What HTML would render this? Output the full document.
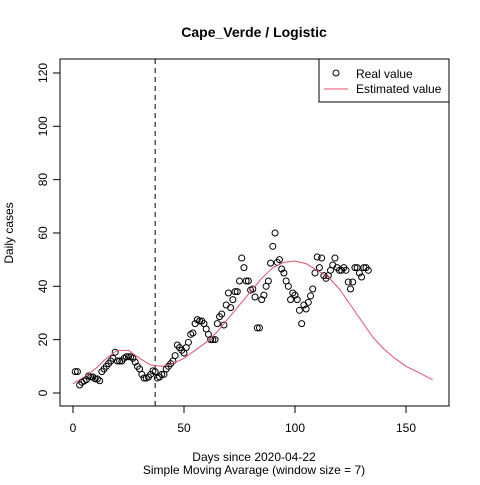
<!DOCTYPE html>
<html><head><meta charset="utf-8"><style>body{margin:0;background:#fff}svg{font-family:"Liberation Sans",sans-serif}</style></head>
<body>
<svg id="c" width="480" height="480">
<rect width="480" height="480" fill="#fff"/>
<text x="254" y="37" text-anchor="middle" font-weight="bold" font-size="14">Cape_Verde / Logistic</text>
<rect x="60" y="59" width="389" height="347" fill="none" stroke="#000"/>
<text x="254" y="461" text-anchor="middle" font-size="12">Days since 2020-04-22</text>
<text x="254" y="474" text-anchor="middle" font-size="12">Simple Moving Avarage (window size = 7)</text>
<text transform="translate(13,233) rotate(-90)" text-anchor="middle" font-size="12">Daily cases</text>
<g id="ax"></g><g id="marks"></g>
<g>
<rect x="319" y="59" width="130" height="43" fill="#fff" stroke="#000"/>
<circle cx="336" cy="73" r="3" fill="none" stroke="#000"/>
<text x="356" y="78" font-size="12">Real value</text>
<line x1="324" y1="89" x2="348" y2="89" stroke="#DF536B"/>
<text x="356" y="93" font-size="12">Estimated value</text>
</g>
</svg>
<script>
const realDays=[];for(let i=1;i<=133;i++)realDays.push(i);
const realValues=[8,8,3,4,4.5,5,6.4,6,6,5.3,5.3,4.6,8,9,10,11,12,13,15.3,12,12,12,13,13.6,13.6,13.6,13,11.6,10,9,7,5.6,5.6,6,7,8.3,8,5.6,
6,7,7,9,10,11,12,14,18,17,16,15,17,19,22,22.5,26,27.5,27,27,26,24,22,20,20,20,26,28.6,29.6,25.5,33,37.5,32,35,38,38,42,50.6,47,42,42,38.6,39,36,24.4,24.4,35,36.7,40,42,48.7,55,60,49,50,46.5,45,42,40,35,37.5,36.7,35,31,26,33,31.5,34,36.4,39,45,51,47,50.6,44,43,44,
46,48,50.6,47,46,46,47,46,41.6,39,41.6,47,47,45,43.5,47,47,46];
const estDays=[0,5,10,15,20,25,30,35,40,45,50,55,60,65,70,75,80,85,90,95,100,105,110,115,120,125,130,135,140,145,150,155,160,162];
const estValues=[3.5,6,9,13,16,16,13,10.5,10,11,13,16,19,23,28,33,38,43,47,49,49.5,48.5,46,43.5,39,33,27,21,16.5,13,10,8,5.8,5];
const xTicks=[0,50,100,150];const yTicks=[0,20,40,60,80,100,120];
const vline=37;
const X=d=>73+d*2.22, Y=v=>393-v*2.667;
const ns="http://www.w3.org/2000/svg";
const ax=document.getElementById('ax'),mk=document.getElementById('marks');
function el(t,a,p){const e=document.createElementNS(ns,t);for(const k in a)e.setAttribute(k,a[k]);p.appendChild(e);return e;}
xTicks.forEach(t=>{const l=el('line',{x1:X(t),x2:X(t),y1:406,y2:413,stroke:'#000'},ax);


const s=el('text',{x:X(t),y:432,'text-anchor':'middle','font-size':12},ax);s.textContent=t;

});
yTicks.forEach(t=>{const l=el('line',{x1:53,x2:60,y1:Y(t),y2:Y(t),stroke:'#000'},ax);


const s=el('text',{transform:`translate(47,${Y(t)}) rotate(-90)`,'text-anchor':'middle','font-size':12},ax);s.textContent=t;

});
const vl=el('line',{x1:X(vline),x2:X(vline),y1:59,y2:406,stroke:'#000','stroke-dasharray':'5,4'},mk);


realDays.forEach((d,i)=>{const c=el('circle',{cx:X(d),cy:Y(realValues[i]),r:3,fill:'none',stroke:'#000'},mk);

});
const p=el('polyline',{points:estDays.map((d,i)=>X(d)+','+Y(estValues[i])).join(' '),fill:'none',stroke:'#DF536B'},mk);


</script>
</body></html>
